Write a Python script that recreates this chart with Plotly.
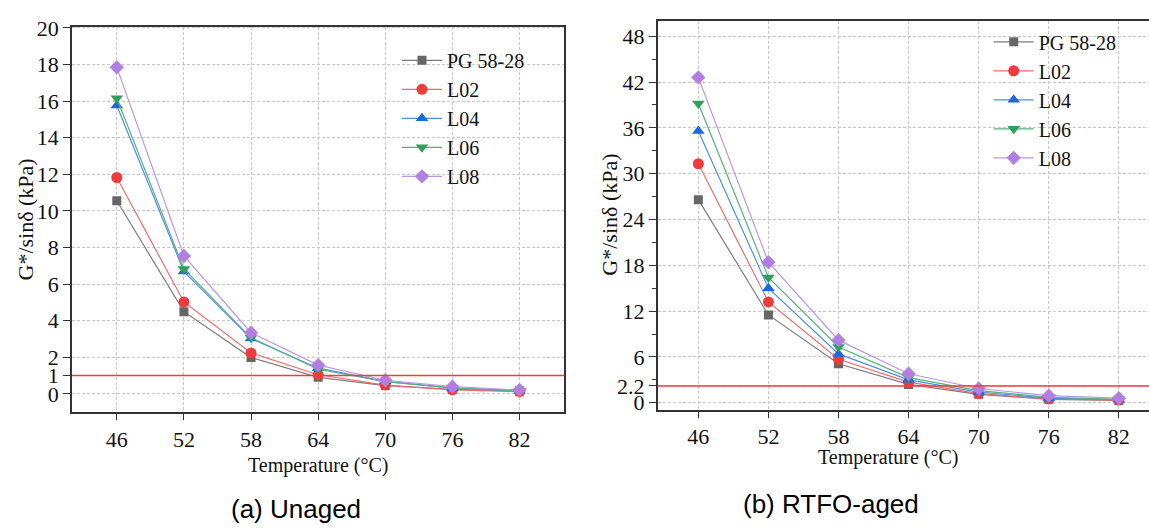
import plotly.graph_objects as go

# Test temperatures (°C)
temps = [46, 52, 58, 64, 70, 76, 82]

# G*/sinδ (kPa), unaged binders
unaged_pg = [10.55, 4.49, 1.98, 0.90, 0.45, 0.25, 0.15]
unaged_l02 = [11.82, 5.02, 2.23, 1.04, 0.48, 0.22, 0.12]
unaged_l04 = [15.76, 6.68, 3.02, 1.40, 0.68, 0.32, 0.17]
unaged_l06 = [16.15, 6.82, 3.06, 1.35, 0.66, 0.31, 0.17]
unaged_l08 = [17.84, 7.53, 3.34, 1.57, 0.74, 0.39, 0.21]

# G*/sinδ (kPa), RTFO-aged binders
rtfo_pg = [26.6, 11.5, 5.1, 2.4, 1.1, 0.45, 0.30]
rtfo_l02 = [31.3, 13.2, 5.7, 2.7, 1.2, 0.50, 0.35]
rtfo_l04 = [35.6, 15.0, 6.4, 3.0, 1.4, 0.60, 0.40]
rtfo_l06 = [39.2, 16.4, 7.3, 3.3, 1.6, 0.70, 0.45]
rtfo_l08 = [42.6, 18.4, 8.2, 3.8, 1.87, 0.93, 0.60]

names = ["PG 58-28", "L02", "L04", "L06", "L08"]
unaged = [unaged_pg, unaged_l02, unaged_l04, unaged_l06, unaged_l08]
rtfo = [rtfo_pg, rtfo_l02, rtfo_l04, rtfo_l06, rtfo_l08]

# Spec limits
limit_unaged = 1.0
limit_rtfo = 2.2

left_yticks = [0, 1, 2, 4, 6, 8, 10, 12, 14, 16, 18, 20]
right_yticks = [0, 2.2, 6, 12, 18, 24, 30, 36, 42, 48]
xticks = temps

marker_colors = ["#666666", "#ee3b3b", "#1c68e0", "#2ea05c", "#b27ee2"]
line_colors = ["#7d7d7d", "#f06a6a", "#4f8ee6", "#55b27d", "#bd95e6"]
symbols = ["square", "circle", "triangle-up", "triangle-down", "diamond"]
sizes = [9, 11, 11, 11, 11]

SERIF = "Liberation Serif"
SANS = "Liberation Sans"
AXC = "#333333"
TXT = "#111111"

fig = go.Figure()

for i, nm in enumerate(names):
    fig.add_trace(go.Scatter(
        x=temps, y=unaged[i], name=nm, mode="lines+markers",
        line=dict(color=line_colors[i], width=1.2),
        marker=dict(color=marker_colors[i], symbol=symbols[i], size=sizes[i]),
        xaxis="x", yaxis="y", legend="legend"))
for i, nm in enumerate(names):
    fig.add_trace(go.Scatter(
        x=temps, y=rtfo[i], name=nm, mode="lines+markers",
        line=dict(color=line_colors[i], width=1.2),
        marker=dict(color=marker_colors[i], symbol=symbols[i], size=sizes[i]),
        xaxis="x2", yaxis="y2", legend="legend2"))

fig.update_layout(
    width=1149, height=530,
    margin=dict(l=0, r=0, t=0, b=0),
    paper_bgcolor="white", plot_bgcolor="white",
    font=dict(family=SERIF, size=22, color=TXT),
    showlegend=True,
    xaxis=dict(domain=[0.0627, 0.4911], range=[42, 86], tickvals=xticks,
               mirror=True, anchor="y"),
    yaxis=dict(domain=[0.2189, 0.9698], range=[-1.02, 20.07], tickvals=left_yticks,
               mirror=True, anchor="x"),
    xaxis2=dict(domain=[0.5724, 1.0], range=[42.52, 84.58], tickvals=xticks,
                mirror=True, anchor="y2"),
    yaxis2=dict(domain=[0.224, 0.9811], range=[-0.93, 50.03], tickvals=right_yticks,
                mirror=False, anchor="x2",
                minor=dict(dtick=3, tick0=0, ticks="outside", ticklen=4,
                           tickcolor=AXC, showgrid=False)),
    legend=dict(x=0.3455, y=0.942, xanchor="left", yanchor="top",
                bgcolor="rgba(255,255,255,0)", borderwidth=0,
                font=dict(family=SERIF, size=20, color=TXT),
                tracegroupgap=0, itemwidth=40),
    legend2=dict(x=0.8605, y=0.978, xanchor="left", yanchor="top",
                 bgcolor="rgba(255,255,255,0)", borderwidth=0,
                 font=dict(family=SERIF, size=20, color=TXT),
                 tracegroupgap=0, itemwidth=40),
)

# Shared axis styling: dark frame, outside ticks, dashed light grid
fig.update_xaxes(showline=True, linecolor=AXC, linewidth=1.6,
                 ticks="outside", ticklen=6, tickcolor=AXC, tickwidth=1.4,
                 tickfont=dict(family=SERIF, size=22, color=TXT),
                 zeroline=False, showgrid=True, gridcolor="#c9c9c9",
                 gridwidth=1, griddash="3px,2px")
fig.update_yaxes(showline=True, linecolor=AXC, linewidth=1.6,
                 ticks="outside", ticklen=7, tickcolor=AXC, tickwidth=1.4,
                 tickfont=dict(family=SERIF, size=22, color=TXT),
                 zeroline=False, showgrid=True, gridcolor="#c9c9c9",
                 gridwidth=1, griddash="3px,2px")

# Specification limit lines
fig.add_shape(type="line", xref="x domain", yref="y", x0=0, x1=1,
              y0=limit_unaged, y1=limit_unaged, line=dict(color="#e8403c", width=1.5))
fig.add_shape(type="line", xref="x2 domain", yref="y2", x0=0, x1=1,
              y0=limit_rtfo, y1=limit_rtfo, line=dict(color="#e8403c", width=1.5))

# Axis titles and panel captions
ann = [
    dict(text="Temperature (°C)", x=318 / 1149, y=1 - 469 / 530,
         font=dict(family=SERIF, size=20, color=TXT)),
    dict(text="Temperature (°C)", x=888 / 1149, y=1 - 460 / 530,
         font=dict(family=SERIF, size=20, color=TXT)),
    dict(text="G*/sinδ (kPa)", x=26 / 1149, y=1 - 215 / 530, textangle=-90,
         font=dict(family=SERIF, size=22, color=TXT)),
    dict(text="G*/sinδ (kPa)", x=610 / 1149, y=1 - 210 / 530, textangle=-90,
         font=dict(family=SERIF, size=22, color=TXT)),
    dict(text="(a) Unaged", x=295.5 / 1149, y=1 - 513 / 530,
         font=dict(family=SANS, size=26, color="#000000")),
    dict(text="(b) RTFO-aged", x=831 / 1149, y=1 - 508 / 530,
         font=dict(family=SANS, size=26, color="#000000")),
]
for a in ann:
    fig.add_annotation(xref="paper", yref="paper", showarrow=False,
                       xanchor="center", yanchor="middle", **a)

fig.write_html("out.html")
